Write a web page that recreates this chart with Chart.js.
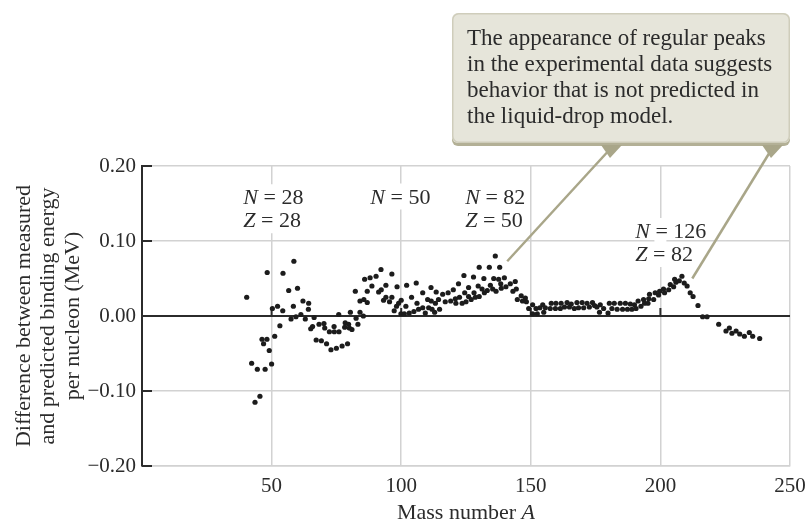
<!DOCTYPE html>
<html>
<head>
<meta charset="utf-8">
<script src="https://cdn.jsdelivr.net/npm/chart.js@4.4.0/dist/chart.umd.min.js"></script>
<style>
  html, body { margin: 0; padding: 0; background: #fff; }
  #wrap { width: 806px; height: 521px; }
</style>
</head>
<body>
<div id="wrap"><canvas id="chart" width="806" height="521"></canvas></div>
<script>
// mass number A and (measured - liquid drop) binding energy per nucleon, MeV
const massNumber = [
  40.4, 42.3, 43.6, 44.5, 45.5, 46.3, 46.9, 47.5, 48.2, 48.3, 49.1, 50.0, 50.3, 51.2, 52.3, 53.2, 54.3, 54.4, 56.6, 57.5,
  58.4, 58.6, 59.4, 60.0, 61.3, 62.1, 63.0, 64.2, 64.3, 65.1, 65.8, 66.4, 67.2, 68.3, 69.2, 70.2, 70.5, 71.2, 72.3, 72.9,
  74.1, 74.2, 75.0, 75.9, 76.0, 77.2, 78.2, 78.4, 79.3, 79.7, 80.0, 80.4, 81.0, 82.3, 82.6, 83.3, 84.1, 84.1, 85.4, 85.6,
  85.9, 86.9, 86.9, 88.0, 88.7, 90.3, 91.3, 92.2, 92.3, 93.2, 94.1, 94.1, 95.5, 96.4, 96.4, 97.3, 98.2, 98.4, 99.0, 99.9,
  100.0, 101.2, 101.8, 102.1, 103.1, 104.0, 104.9, 105.8, 106.1, 106.7, 108.3, 108.3, 109.3, 110.2, 110.6, 111.5, 111.6, 111.9, 112.9, 113.2,
  113.5, 114.4, 114.8, 116.0, 117.0, 118.1, 119.1, 120.1, 120.9, 121.1, 122.1, 122.5, 123.5, 124.2, 124.5, 125.0, 126.0, 126.0, 127.0, 127.9,
  128.1, 128.6, 129.7, 130.1, 130.1, 131.2, 131.9, 132.1, 133.2, 134.0, 134.4, 135.3, 135.7, 136.3, 136.6, 137.6, 138.0, 138.4, 138.6, 139.8,
  140.4, 142.1, 143.1, 144.0, 144.4, 144.8, 146.3, 146.8, 147.9, 148.3, 149.2, 150.7, 150.7, 152.0, 152.5, 153.5, 154.6, 155.0, 155.6, 157.5,
  157.9, 159.5, 159.7, 161.4, 161.7, 163.0, 164.0, 164.9, 165.6, 166.8, 167.8, 168.4, 169.8, 170.4, 171.7, 172.6, 173.8, 174.6, 175.5, 176.5,
  176.8, 178.1, 179.8, 180.3, 181.3, 182.2, 183.3, 184.5, 185.4, 186.5, 187.3, 188.4, 189.0, 190.0, 190.6, 191.4, 192.5, 193.5, 193.9, 195.2,
  195.5, 195.8, 197.4, 198.0, 199.3, 199.7, 201.2, 201.6, 203.2, 203.8, 205.1, 205.5, 206.0, 207.3, 208.3, 209.2, 210.3, 211.5, 212.6, 214.5,
  216.3, 218.0, 222.5, 225.3, 226.6, 227.6, 229.2, 230.6, 232.4, 234.3, 235.6, 238.3
]
const deltaB = [
  0.025, -0.063, -0.115, -0.071, -0.107, -0.031, -0.037, -0.071, -0.031, 0.058, -0.046, -0.064, 0.010, -0.027, 0.013, -0.013, 0.007, 0.057, 0.034, -0.004,
  0.013, 0.073, -0.001, 0.037, 0.002, 0.020, -0.004, 0.009, 0.017, -0.017, -0.014, -0.002, -0.032, -0.011, -0.033, -0.010, -0.016, -0.037, -0.021, -0.045,
  -0.014, -0.021, -0.043, 0.002, -0.021, -0.040, -0.015, -0.009, -0.037, -0.011, -0.016, 0.005, -0.018, 0.033, -0.003, -0.011, 0.005, 0.020, 0.000, 0.022,
  0.049, 0.018, 0.033, 0.051, 0.040, 0.053, 0.032, 0.062, 0.035, 0.021, 0.025, 0.041, 0.019, 0.025, 0.056, 0.007, 0.013, 0.039, 0.017, 0.003,
  0.021, 0.003, 0.013, 0.041, 0.004, 0.025, 0.006, 0.044, 0.017, 0.009, 0.031, 0.011, 0.004, 0.022, 0.011, 0.038, 0.020, 0.009, 0.005, 0.017,
  0.032, 0.022, 0.009, 0.029, 0.019, 0.031, 0.020, 0.035, 0.023, 0.017, 0.043, 0.025, 0.017, 0.054, 0.031, 0.019, 0.038, 0.026, 0.022, 0.052,
  0.031, 0.025, 0.040, 0.065, 0.026, 0.036, 0.050, 0.031, 0.034, 0.065, 0.041, 0.036, 0.050, 0.080, 0.033, 0.049, 0.065, 0.043, 0.037, 0.051,
  0.039, 0.043, 0.033, 0.046, 0.036, 0.022, 0.027, 0.020, 0.024, 0.019, 0.010, 0.015, 0.003, 0.010, 0.003, 0.011, 0.015, 0.005, 0.011, 0.010,
  0.017, 0.010, 0.017, 0.010, 0.017, 0.012, 0.018, 0.012, 0.016, 0.010, 0.018, 0.011, 0.018, 0.011, 0.017, 0.012, 0.018, 0.014, 0.012, 0.005,
  0.015, 0.010, 0.004, 0.017, 0.010, 0.017, 0.009, 0.017, 0.009, 0.017, 0.009, 0.016, 0.009, 0.015, 0.010, 0.020, 0.013, 0.022, 0.017, 0.017,
  0.023, 0.029, 0.022, 0.031, 0.028, 0.033, 0.036, 0.031, 0.035, 0.042, 0.039, 0.049, 0.045, 0.047, 0.053, 0.044, 0.040, 0.031, 0.026, 0.014,
  -0.001, -0.001, -0.011, -0.020, -0.016, -0.023, -0.020, -0.024, -0.027, -0.022, -0.027, -0.030
]
const xTicks = [50, 100, 150, 200, 250]
const yTicks = [-0.2, -0.1, 0, 0.1, 0.2]

const xTitle = [['Mass number '], ['A', true]]
const yTitle = ['Difference between measured', 'and predicted binding energy', 'per nucleon (MeV)']
const calloutText = ['The appearance of regular peaks', 'in the experimental data suggests',
  'behavior that is not predicted in', 'the liquid-drop model.']

// magic-number labels, anchored in data coords (A, value of first baseline)
const shellLabels = [
  { lines: [[['N', true], [' = 28']], [['Z', true], [' = 28']]], at: [39.1, 0.149], grid: 50 },
  { lines: [[['N', true], [' = 50']]], at: [88.1, 0.150], grid: 100 },
  { lines: [[['N', true], [' = 82']], [['Z', true], [' = 50']]], at: [124.7, 0.150], grid: null },
  { lines: [[['N', true], [' = 126']], [['Z', true], [' = 82']]], at: [190.3, 0.104], grid: 200 }
]
// callout pointer targets
const pointerTargets = [[140.9, 0.073], [212.3, 0.050]]

const FONT = '"Liberation Serif", "Times New Roman", serif'
const INK = '#2b2b2b'
const GRID = '#d2d2d2'

const points = massNumber.map((a, i) => ({ x: a, y: deltaB[i] }))

function richWidth(ctx, parts, size) {
  let w = 0
  parts.forEach(p => {
    ctx.font = (p[1] ? 'italic ' : '') + size + 'px ' + FONT
    w += ctx.measureText(p[0]).width
  })
  return w
}

function drawRich(ctx, parts, x, y, size) {
  let cx = x
  parts.forEach(p => {
    ctx.font = (p[1] ? 'italic ' : '') + size + 'px ' + FONT
    ctx.fillText(p[0], cx, y)
    cx += ctx.measureText(p[0]).width
  })
}

function line(ctx, x1, y1, x2, y2) {
  ctx.beginPath(); ctx.moveTo(x1, y1); ctx.lineTo(x2, y2); ctx.stroke()
}

function roundRect(ctx, x, y, w, h, r) {
  ctx.beginPath()
  ctx.moveTo(x + r, y)
  ctx.arcTo(x + w, y, x + w, y + h, r)
  ctx.arcTo(x + w, y + h, x, y + h, r)
  ctx.arcTo(x, y + h, x, y, r)
  ctx.arcTo(x, y, x + w, y, r)
  ctx.closePath()
}

const overlay = {
  id: 'overlay',
  beforeDatasetsDraw(chart) {
    const { ctx, chartArea: a, scales: { x, y } } = chart
    ctx.save()
    // white knockouts where labels sit on vertical gridlines
    ctx.fillStyle = '#fff'
    shellLabels.forEach(l => {
      if (l.grid === null) return
      const gx = x.getPixelForValue(l.grid)
      const top = Math.max(a.top + 1, y.getPixelForValue(l.at[1]) - 20)
      const bottom = y.getPixelForValue(l.at[1]) + (l.lines.length - 1) * 23 + 6
      ctx.fillRect(gx - 6, top, 12, bottom - top)
    })
    // inner ticks on left axis and on the zero line
    ctx.strokeStyle = INK
    ctx.lineWidth = 2
    yTicks.forEach(v => {
      if (v === 0) return
      const py = y.getPixelForValue(v)
      line(ctx, a.left, py, a.left + 10, py)
    })
    const y0 = y.getPixelForValue(0)
    xTicks.forEach(v => {
      if (v >= 250) return
      const px = x.getPixelForValue(v)
      line(ctx, px, y0, px, y0 - 8)
    })
    ctx.restore()
  },
  afterDraw(chart) {
    const { ctx, chartArea: a, scales: { x, y } } = chart
    ctx.save()
    ctx.fillStyle = INK
    ctx.textBaseline = 'alphabetic'
    ctx.textAlign = 'left'

    shellLabels.forEach(l => {
      const px = x.getPixelForValue(l.at[0])
      const py = y.getPixelForValue(l.at[1])
      l.lines.forEach((parts, i) => drawRich(ctx, parts, px, py + i * 23, 22))
    })

    // x title
    const w = richWidth(ctx, xTitle, 22)
    drawRich(ctx, xTitle, (a.left + a.right) / 2 - w / 2, 519, 22)

    // y title
    ctx.save()
    ctx.translate(0, (a.top + a.bottom) / 2)
    ctx.rotate(-Math.PI / 2)
    ctx.textAlign = 'center'
    ctx.textBaseline = 'middle'
    ctx.font = '22px ' + FONT
    yTitle.forEach((t, i) => ctx.fillText(t, 0, 24 + i * 24.5))
    ctx.restore()

    // callout box
    const bx = 452, by = 13, bw = a.right - 452, bh = 130
    ctx.fillStyle = '#b3b096'
    roundRect(ctx, bx, by + 3, bw, bh, 6); ctx.fill()
    ctx.fillStyle = '#e6e5da'
    roundRect(ctx, bx, by, bw, bh, 6); ctx.fill()
    ctx.strokeStyle = '#cfcdbb'
    ctx.lineWidth = 1.5
    roundRect(ctx, bx + 0.75, by + 0.75, bw - 1.5, bh - 1.5, 6); ctx.stroke()

    ctx.fillStyle = INK
    ctx.font = '23px ' + FONT
    ctx.textAlign = 'left'
    ctx.textBaseline = 'alphabetic'
    calloutText.forEach((t, i) => ctx.fillText(t, 467, 45 + i * 26))

    // pointers
    const starts = [612, 773]
    ctx.strokeStyle = '#a9a689'
    ctx.fillStyle = '#a9a689'
    ctx.lineWidth = 2.5
    pointerTargets.forEach((t, i) => {
      const sx = starts[i], sy = by + bh + 2
      ctx.beginPath()
      ctx.moveTo(sx - 11, sy); ctx.lineTo(sx + 10, sy); ctx.lineTo(sx - 2, sy + 13); ctx.closePath(); ctx.fill()
      line(ctx, sx, sy + 2, x.getPixelForValue(t[0]), y.getPixelForValue(t[1]))
    })
    ctx.restore()
  }
}

new Chart(document.getElementById('chart'), {
  type: 'scatter',
  data: {
    datasets: [{
      data: points,
      backgroundColor: '#1c1c1c',
      borderWidth: 0,
      pointRadius: 2.6,
      pointHoverRadius: 2.6
    }]
  },
  options: {
    responsive: false,
    animation: false,
    devicePixelRatio: 1,
    events: [],
    layout: { padding: { top: 166, right: 16, left: 0, bottom: 0 } },
    plugins: { legend: { display: false }, tooltip: { enabled: false } },
    scales: {
      x: {
        type: 'linear', min: 0, max: 250,
        afterFit: s => { s.height = 55; s.paddingLeft = 0; s.paddingRight = 0 },
        afterBuildTicks: s => { s.ticks = [0].concat(xTicks).map(v => ({ value: v })) },
        grid: {
          drawTicks: false,
          color: c => c.tick && c.tick.value === 0 ? 'rgba(0,0,0,0)' : GRID,
          lineWidth: 1.5
        },
        border: { color: GRID, width: 1.5 },
        ticks: {
          padding: 8,
          color: INK,
          font: { family: FONT, size: 21 },
          maxRotation: 0,
          callback: v => v === 0 ? '' : v
        }
      },
      y: {
        type: 'linear', min: -0.2, max: 0.2,
        afterFit: s => { s.width = 142; s.paddingTop = 0; s.paddingBottom = 0 },
        afterBuildTicks: s => { s.ticks = yTicks.map(v => ({ value: v })) },
        grid: {
          drawTicks: false,
          color: c => c.tick && c.tick.value === 0 ? INK : GRID,
          lineWidth: c => c.tick && c.tick.value === 0 ? 2 : 1.5
        },
        border: { color: INK, width: 2 },
        ticks: {
          padding: 6,
          color: INK,
          font: { family: FONT, size: 21 },
          callback: v => Math.abs(v) < 1e-9 ? '0.00' : (v < 0 ? '\u2212' : '') + Math.abs(v).toFixed(2)
        }
      }
    }
  },
  plugins: [overlay]
})
</script>
</body>
</html>
